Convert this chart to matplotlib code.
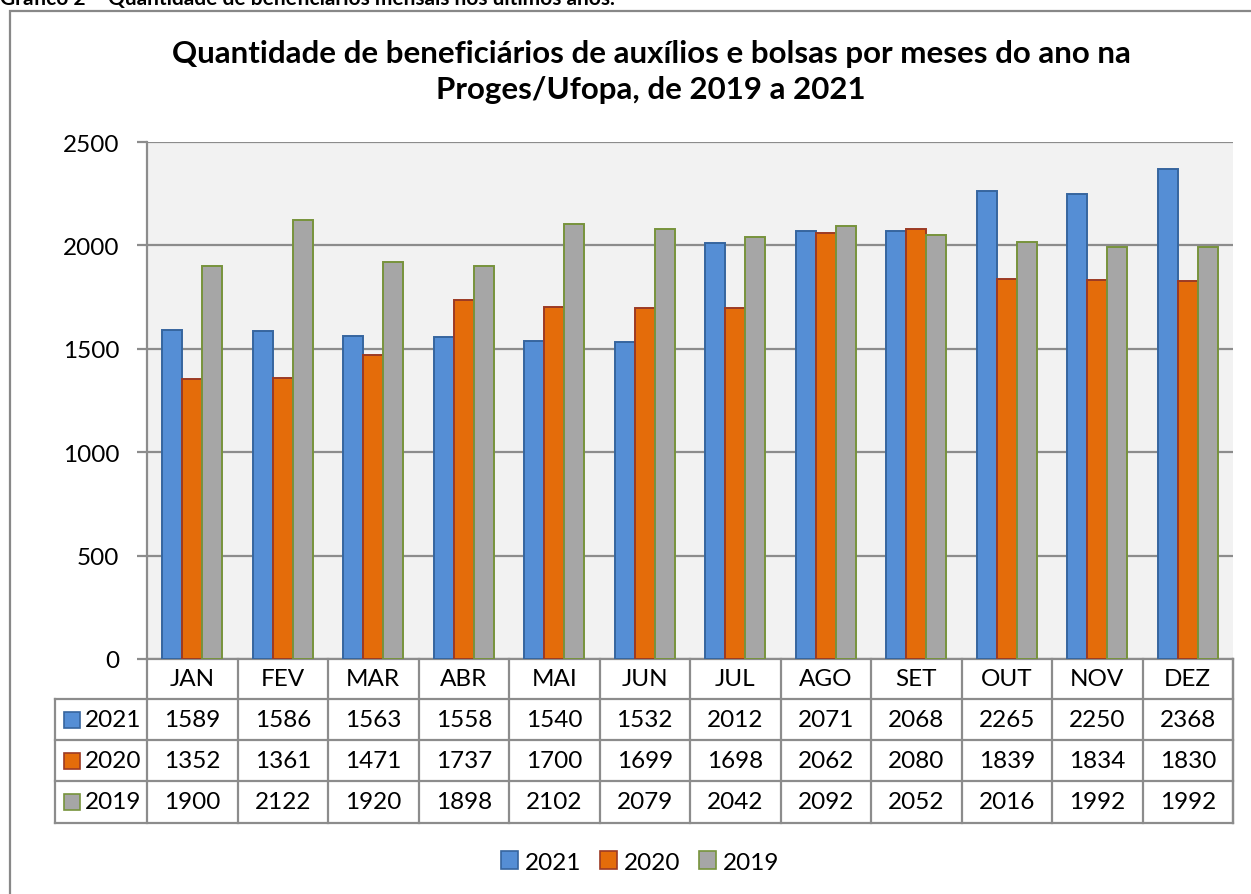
import numpy as np
import matplotlib.pyplot as plt
from matplotlib.patches import Rectangle
from matplotlib.transforms import blended_transform_factory

plt.rcParams['font.family'] = ['Lato', 'DejaVu Sans']

# data
months = ['JAN', 'FEV', 'MAR', 'ABR', 'MAI', 'JUN', 'JUL', 'AGO', 'SET', 'OUT', 'NOV', 'DEZ']
series_names = ['2021', '2020', '2019']
v2021 = [1589, 1586, 1563, 1558, 1540, 1532, 2012, 2071, 2068, 2265, 2250, 2368]
v2020 = [1352, 1361, 1471, 1737, 1700, 1699, 1698, 2062, 2080, 1839, 1834, 1830]
v2019 = [1900, 2122, 1920, 1898, 2102, 2079, 2042, 2092, 2052, 2016, 1992, 1992]
values = [v2021, v2020, v2019]

faces = ['#558ed5', '#e46c0a', '#a6a6a6']
edges = ['#36659e', '#9c3a24', '#77933c']
line_gray = '#8c8c8c'
fs = 17.5

W, H = 1251, 895
fig = plt.figure(figsize=(W / 100, H / 100), dpi=100)

# outer chart frame
fig.patches.append(Rectangle((10 / W, -0.01), 1.0, (H - 12) / H + 0.01,
                             transform=fig.transFigure, fill=False,
                             edgecolor='#888888', linewidth=1.6))
# caption cut at top
fig.text(0.0, 1.0 + 1 / H, 'Gráfico 2 – Quantidade de beneficiários mensais nos últimos anos.',
         fontsize=15, fontweight='bold', ha='left', va='center')

ax = fig.add_axes([147 / W, 235 / H, (1233 - 147) / W, (660 - 143) / H])
ax.set_facecolor('#f2f2f2')

x = np.arange(len(months))
bw = 0.22
for i in range(3):
    ax.bar(x + (i - 1) * bw, values[i], width=bw, color=faces[i],
           edgecolor=edges[i], linewidth=1.4, zorder=3)

ax.set_xlim(-0.5, len(months) - 0.5)
ax.set_ylim(0, 2500)
ax.set_yticks(np.arange(0, 2501, 500))
ax.grid(axis='y', color=line_gray, linewidth=1.6, zorder=1)
ax.set_xticks([])
ax.tick_params(axis='y', length=7, width=1.6, color=line_gray, pad=13, labelsize=fs)
for s in ['top', 'right']:
    ax.spines[s].set_visible(False)
for s in ['left', 'bottom']:
    ax.spines[s].set_color(line_gray)
    ax.spines[s].set_linewidth(1.6)

fig.text(651 / W, 1 - 72 / H,
         'Quantidade de beneficiários de auxílios e bolsas por meses do ano na\nProges/Ufopa, de 2019 a 2021',
         fontsize=22.5, fontweight='bold', ha='center', va='center', linespacing=1.38)

# data table under the axis
tr = blended_transform_factory(ax.transData, ax.transAxes)
ax_h = 660 - 143
col_px = (1233 - 147) / 12
row_px = [660, 700, 741, 782, 824]
row_y = [(660 - p) / ax_h for p in row_px]
x_left = -0.5 - (147 - 55) / col_px
x_right = len(months) - 0.5

lk = dict(color=line_gray, linewidth=1.6, transform=tr, clip_on=False)
# horizontal lines
for yy in row_y[1:]:
    ax.plot([x_left, x_right], [yy, yy], **lk)
# vertical lines
for xx in np.arange(-0.5, len(months), 1.0):
    ax.plot([xx, xx], [row_y[0], row_y[-1]], **lk)
ax.plot([x_right, x_right], [row_y[0], row_y[-1]], **lk)
ax.plot([x_left, x_left], [row_y[1], row_y[-1]], **lk)

for j, m in enumerate(months):
    ax.text(j, (row_y[0] + row_y[1]) / 2, m, transform=tr, ha='center', va='center',
            fontsize=fs, clip_on=False)
key_w = 16 / col_px
for i in range(3):
    yc = (row_y[i + 1] + row_y[i + 2]) / 2
    for j in range(len(months)):
        ax.text(j, yc, str(values[i][j]), transform=tr, ha='center', va='center',
                fontsize=fs, clip_on=False)
    kx = x_left + 9 / col_px
    ax.add_patch(Rectangle((kx, yc - 8 / ax_h), key_w, 16 / ax_h, transform=tr,
                           facecolor=faces[i], edgecolor=edges[i], linewidth=1.2,
                           clip_on=False))
    ax.text(kx + key_w + 5 / col_px, yc, series_names[i], transform=tr,
            ha='left', va='center', fontsize=fs, clip_on=False)

# legend at bottom
handles = [Rectangle((0, 0), 1, 1, facecolor=faces[i], edgecolor=edges[i], linewidth=1.2)
           for i in range(3)]
fig.legend(handles, series_names, loc='center', bbox_to_anchor=(640 / W, 1 - 863 / H),
           ncol=3, frameon=False, fontsize=fs, handlelength=0.7, handleheight=0.7,
           handletextpad=0.3, columnspacing=0.75, borderpad=0)

fig.savefig('out.png', dpi=100)
